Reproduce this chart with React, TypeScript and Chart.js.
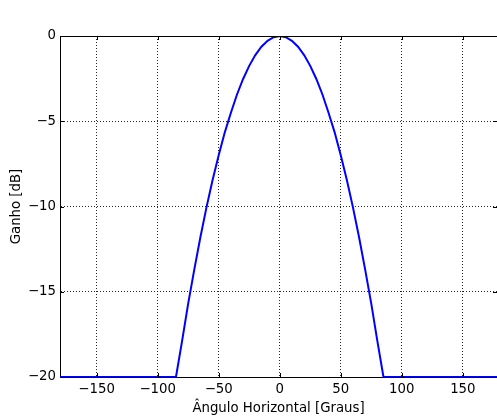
import React, { useEffect, useRef } from "react";
import { Chart, registerables } from "chart.js";

Chart.register(...registerables);

// Horizontal angle (degrees) and gain (dB)
const angles = [
  -180, -90, -85, -80, -75, -70, -65, -60, -55, -50, -45, -40, -35, -30, -25, -20, -15, -10, -5,
  0, 5, 10, 15, 20, 25, 30, 35, 40, 45, 50, 55, 60, 65, 70, 75, 80, 85, 90, 180,
];
const gainDb = [
  -20, -20, -20, -17.9, -15.7, -13.7, -11.8, -10.05, -8.45, -7.0, -5.65, -4.5, -3.43, -2.52, -1.75, -1.12, -0.63, -0.28, -0.07,
  0, -0.07, -0.28, -0.63, -1.12, -1.75, -2.52, -3.43, -4.5, -5.65, -7.0, -8.45, -10.05, -11.8, -13.7, -15.7, -17.9, -20, -20, -20,
];
const xTicks = [-150, -100, -50, 0, 50, 100, 150];
const yTicks = [-20, -15, -10, -5, 0];
const xTitle = "Ângulo Horizontal [Graus]";
const yTitle = "Ganho [dB]";

const FONT = "DejaVu Sans";
const FS = 13.3;

const minus = (v: number) => String(v).replace("-", "\u2212");

const spinesPlugin = {
  id: "spines",
  afterDraw(chart: any) {
    const { ctx, chartArea } = chart;
    const { left, right, top, bottom } = chartArea;
    const xs = chart.scales.x;
    const ys = chart.scales.y;
    ctx.save();
    ctx.strokeStyle = "#000";
    ctx.lineWidth = 1;
    ctx.setLineDash([]);
    ctx.beginPath();
    // top spine
    ctx.moveTo(left, Math.round(top) + 0.5);
    ctx.lineTo(right, Math.round(top) + 0.5);
    // inward ticks
    const L = 4;
    xTicks.forEach((v) => {
      const px = Math.round(xs.getPixelForValue(v)) + 0.5;
      ctx.moveTo(px, bottom);
      ctx.lineTo(px, bottom - L);
      ctx.moveTo(px, top);
      ctx.lineTo(px, top + L);
    });
    yTicks.forEach((v) => {
      const py = Math.round(ys.getPixelForValue(v)) + 0.5;
      ctx.moveTo(left, py);
      ctx.lineTo(left + L, py);
      ctx.moveTo(right, py);
      ctx.lineTo(right - L, py);
    });
    ctx.stroke();
    ctx.restore();
  },
};

export default function App() {
  const ref = useRef<HTMLCanvasElement | null>(null);

  useEffect(() => {
    if (!ref.current) return;
    const gridOpts = {
      color: "rgba(0,0,0,0.85)",
      lineWidth: 1,
      drawTicks: false,
    };
    const chart = new Chart(ref.current, {
      type: "line",
      data: {
        datasets: [
          {
            data: angles.map((a, i) => ({ x: a, y: gainDb[i] })),
            borderColor: "#0000ff",
            borderWidth: 2,
            pointRadius: 0,
            tension: 0,
            fill: false,
          },
        ],
      },
      options: {
        animation: false,
        responsive: false,
        devicePixelRatio: 1,
        layout: { padding: { top: 36, right: 0, left: 0, bottom: 0 } },
        plugins: { legend: { display: false }, tooltip: { enabled: false } },
        scales: {
          x: {
            type: "linear",
            min: -180,
            max: 178,
            afterBuildTicks: (s: any) => {
              s.ticks = xTicks.map((v) => ({ value: v }));
            },
            afterFit: (s: any) => {
              s.height = 40;
            },
            grid: gridOpts,
            border: { display: true, color: "#000", width: 1, dash: [1, 2] },
            ticks: {
              padding: 5,
              color: "#000",
              font: { family: FONT, size: FS },
              callback: (v: any) => minus(v),
              maxRotation: 0,
            },
            title: {
              display: true,
              text: xTitle,
              color: "#000",
              font: { family: FONT, size: FS },
              padding: { top: 0, bottom: 0 },
            },
          },
          y: {
            type: "linear",
            min: -20,
            max: 0,
            afterBuildTicks: (s: any) => {
              s.ticks = yTicks.map((v) => ({ value: v }));
            },
            afterFit: (s: any) => {
              s.width = 60;
            },
            grid: gridOpts,
            border: { display: true, color: "#000", width: 1, dash: [1, 2] },
            ticks: {
              padding: 4,
              color: "#000",
              font: { family: FONT, size: FS },
              callback: (v: any) => minus(v),
            },
            title: {
              display: true,
              text: yTitle,
              color: "#000",
              font: { family: FONT, size: FS },
              padding: { top: 9, bottom: 0 },
            },
          },
        },
      },
      plugins: [spinesPlugin],
    } as any);
    return () => chart.destroy();
  }, []);

  return (
    <canvas
      ref={ref}
      width={497}
      height={417}
      style={{ position: "absolute", left: 0, top: 0, width: 497, height: 417 }}
    />
  );
}
